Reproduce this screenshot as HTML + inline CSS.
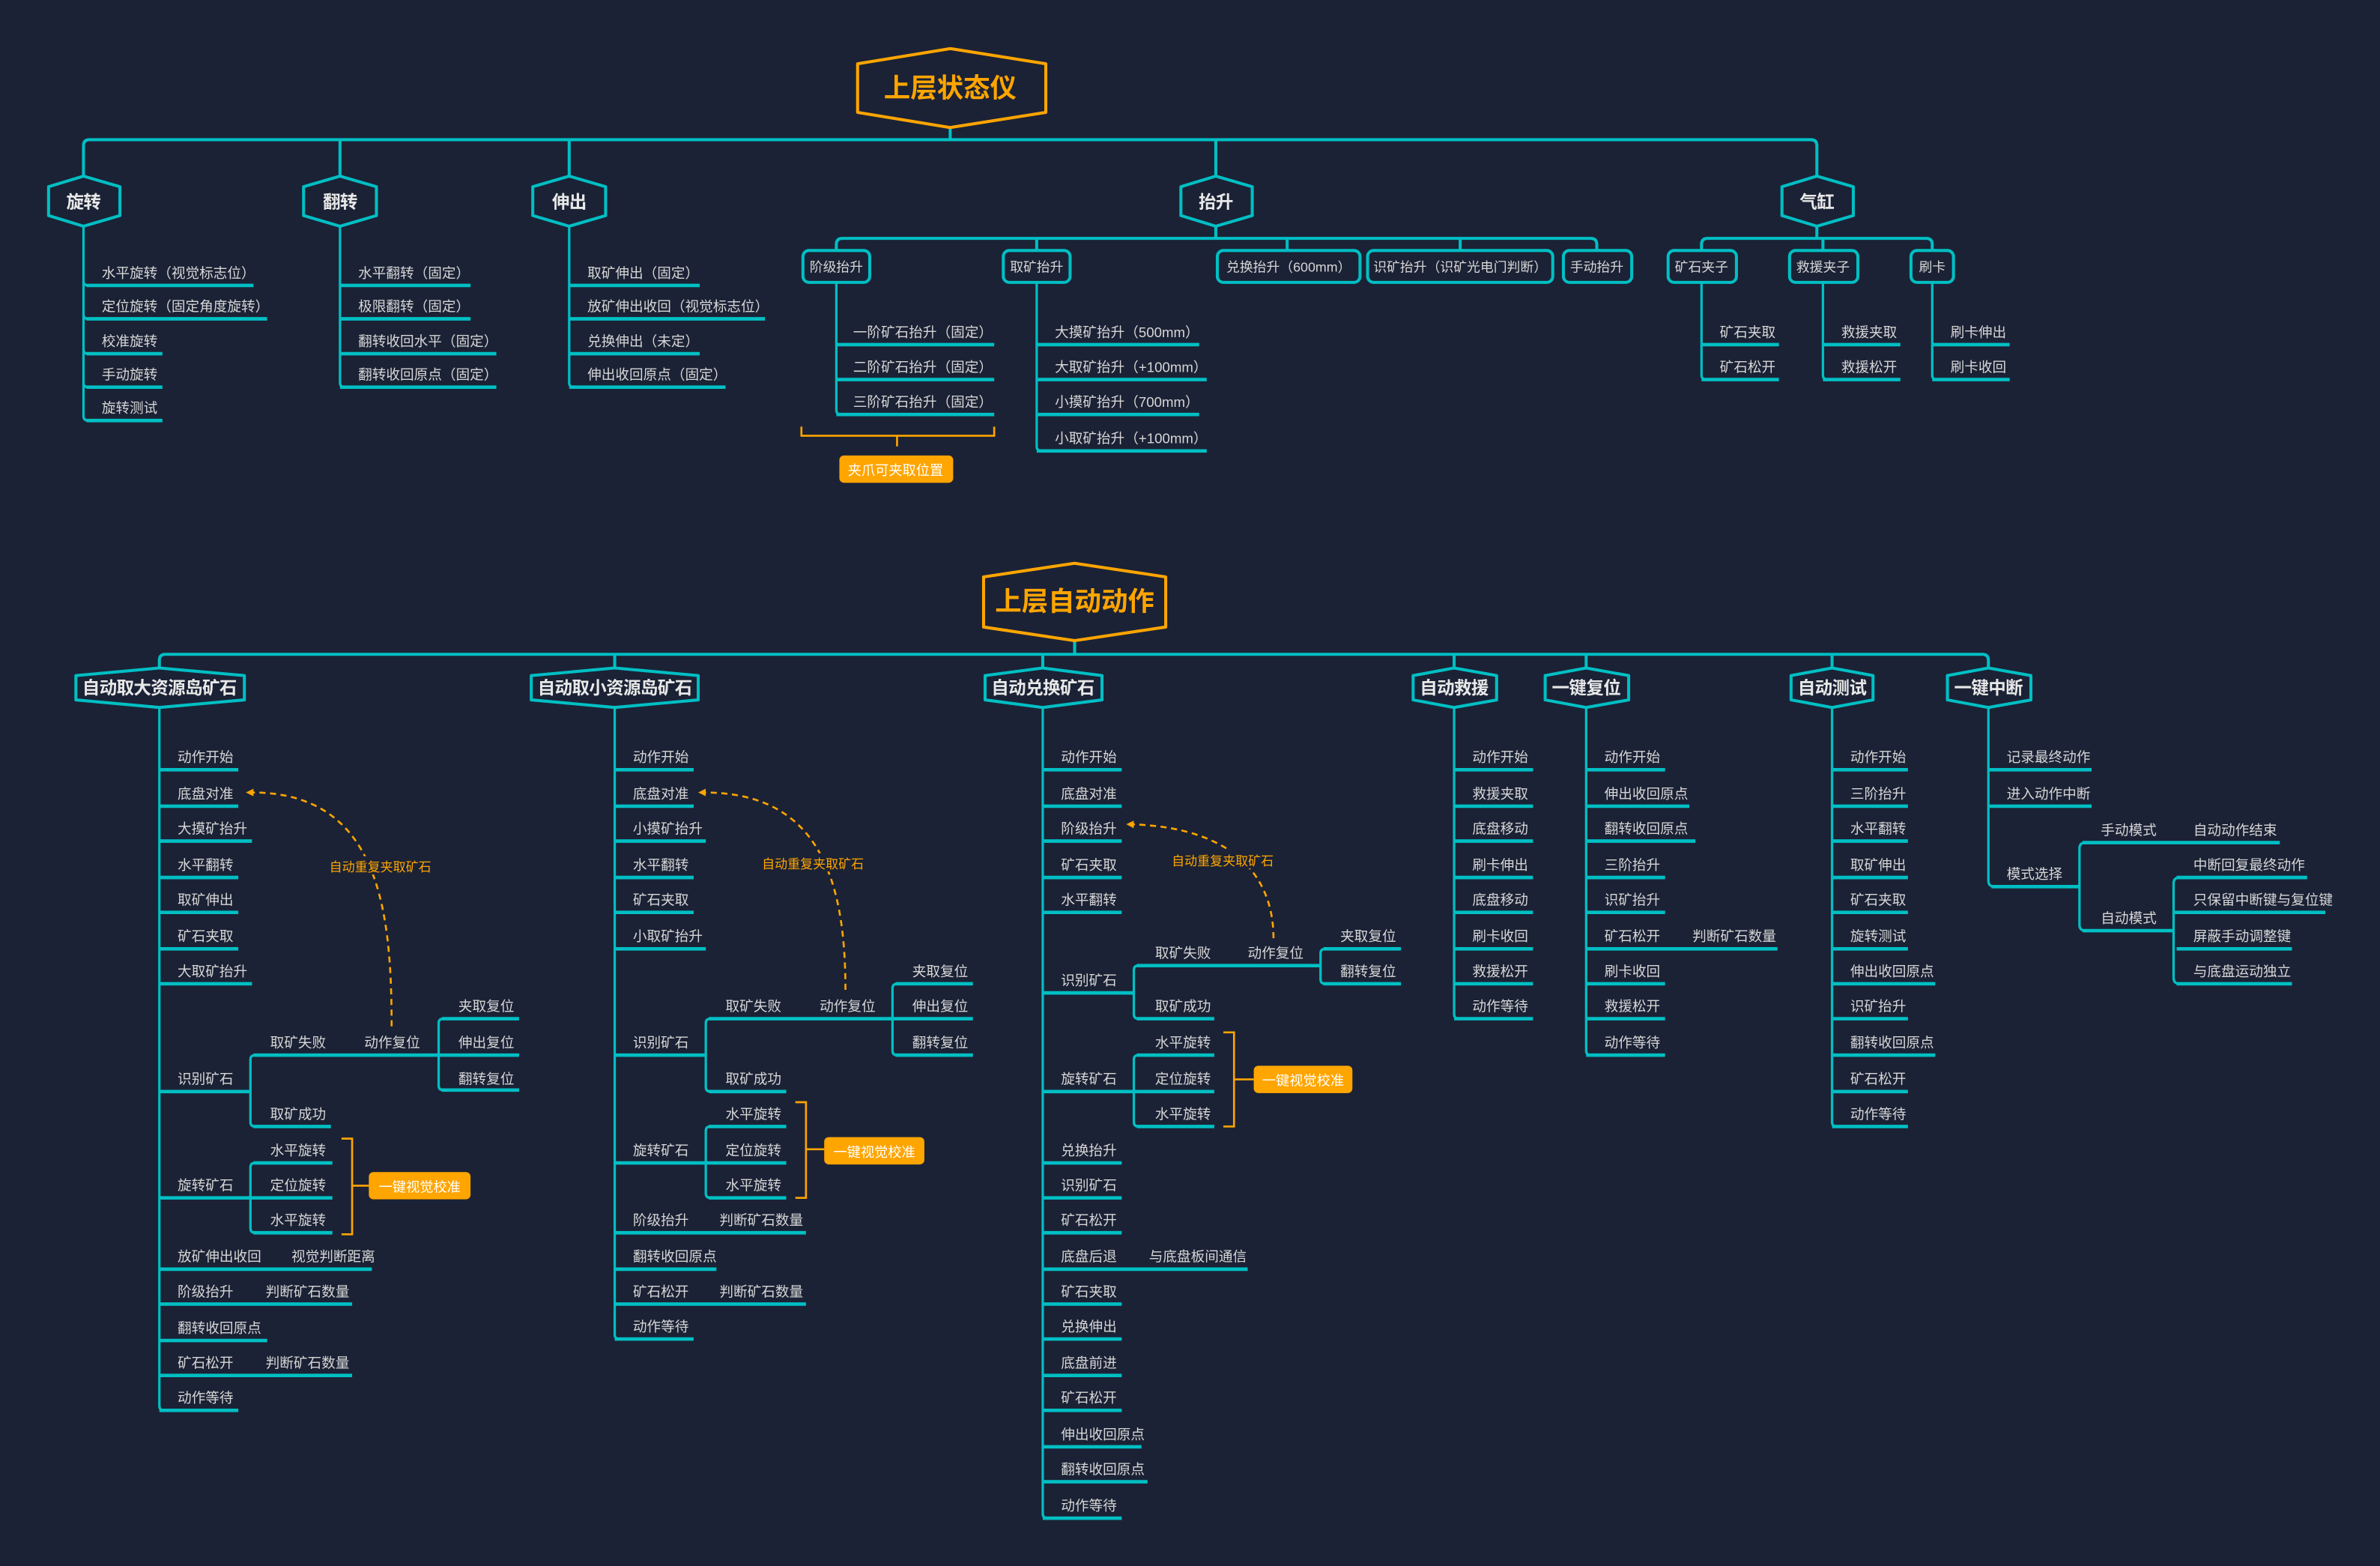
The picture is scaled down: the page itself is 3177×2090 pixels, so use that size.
<!DOCTYPE html>
<html><head><meta charset="utf-8"><style>
html,body{margin:0;padding:0;background:#1b2235;}
svg{display:block}
text{font-family:"Liberation Sans","Noto Sans CJK SC",sans-serif;fill:#d6d6d6;font-size:9.2px}
.b{font-size:11.6px;font-weight:bold;fill:#e8e8e8;text-anchor:middle;letter-spacing:-0.3px}
.t{font-size:17.5px;font-weight:bold;fill:#ffa500;text-anchor:middle}
.o{fill:#ffa500;font-size:8.4px}
.ow{fill:#fff;font-size:9px;text-anchor:middle}
.s{font-size:8.8px;text-anchor:middle}
.tr{stroke:#00bfc4;stroke-width:1.6;fill:none;stroke-linejoin:round;stroke-linecap:round}
.ul{stroke:#00bfc4;stroke-width:2.3;fill:none}
.bus{stroke:#00bfc4;stroke-width:2;fill:none;stroke-linejoin:round}
.nd{stroke:#00bfc4;stroke-width:2;fill:#1b2235;stroke-linejoin:round}
.br{stroke:#ffa500;stroke-width:1.3;fill:none}
</style></head><body>
<svg width="3177" height="2090" viewBox="0 0 1568 1031.5" xmlns="http://www.w3.org/2000/svg">
<rect width="1568" height="1032" fill="#1b2235"/>
<defs><marker id="ar" markerWidth="5" markerHeight="5" refX="1" refY="2.5" orient="auto" markerUnits="userSpaceOnUse"><path d="M5,0 L0,2.5 L5,5 Z" fill="#ffa500" transform="rotate(180 2.5 2.5)"/></marker></defs>

<!-- ============ TOP SECTION ============ -->
<path class="bus" d="M626,84 V92 M59,92 H1193 M55,116 V96 Q55,92 59,92 M1197,116 V96 Q1197,92 1193,92 M224,116 V92 M375,116 V92 M801,116 V92"/>
<polygon points="565,42 626,32 689,42 689,74 626,84 565,74" fill="#1b2235" stroke="#ffa500" stroke-width="2" stroke-linejoin="round"/>
<text class="t" x="626" y="64">上层状态仪</text>

<polygon class="nd" points="32,123 55,116 79,123 79,142 55,149 32,142"/><text class="b" x="55" y="137">旋转</text>
<polygon class="nd" points="200,123 224,116 248,123 248,142 224,149 200,142"/><text class="b" x="224" y="137">翻转</text>
<polygon class="nd" points="351,123 375,116 399,123 399,142 375,149 351,142"/><text class="b" x="375" y="137">伸出</text>
<polygon class="nd" points="778,123 801,116 825,123 825,142 801,149 778,142"/><text class="b" x="801" y="137">抬升</text>
<polygon class="nd" points="1174,123 1197,116 1221,123 1221,142 1197,149 1174,142"/><text class="b" x="1197" y="137">气缸</text>

<path class="tr" d="M55,149 V274 Q55,277 58,277 M55,185 Q55,188 58,188 M55,207 Q55,210 58,210 M55,230 Q55,233 58,233 M55,252 Q55,255 58,255"/>
<path class="ul" d="M57,188 H167 M57,210 H176 M57,233 H107 M57,255 H107 M57,277 H107"/>
<text x="67" y="183">水平旋转（视觉标志位）</text><text x="67" y="205">定位旋转（固定角度旋转）</text><text x="67" y="228">校准旋转</text><text x="67" y="250">手动旋转</text><text x="67" y="272">旋转测试</text>
<path class="tr" d="M224,149 V252 Q224,255 227,255"/>
<path class="ul" d="M224,188 H310 M224,210 H310 M224,233 H327 M224,255 H327"/>
<text x="236" y="183">水平翻转（固定）</text><text x="236" y="205">极限翻转（固定）</text><text x="236" y="228">翻转收回水平（固定）</text><text x="236" y="250">翻转收回原点（固定）</text>
<path class="tr" d="M375,149 V252 Q375,255 378,255"/>
<path class="ul" d="M375,188 H461 M375,210 H504 M375,233 H461 M375,255 H478"/>
<text x="387" y="183">取矿伸出（固定）</text><text x="387" y="205">放矿伸出收回（视觉标志位）</text><text x="387" y="228">兑换伸出（未定）</text><text x="387" y="250">伸出收回原点（固定）</text>

<path class="bus" d="M801,149 V157 M555,157 H1048 M551,165 V161 Q551,157 555,157 M1052,165 V161 Q1052,157 1048,157 M683,165 V157 M848,165 V157 M962,165 V157"/>
<rect class="nd" x="529" y="165" width="44" height="21" rx="4"/><text class="s" x="551" y="179">阶级抬升</text>
<rect class="nd" x="661" y="165" width="44" height="21" rx="4"/><text class="s" x="683" y="179">取矿抬升</text>
<rect class="nd" x="802" y="165" width="94" height="21" rx="4"/><text class="s" x="849" y="179">兑换抬升（600mm）</text>
<rect class="nd" x="901" y="165" width="122" height="21" rx="4"/><text class="s" x="962" y="179">识矿抬升（识矿光电门判断）</text>
<rect class="nd" x="1030" y="165" width="45" height="21" rx="4"/><text class="s" x="1052" y="179">手动抬升</text>

<path class="tr" d="M551,186 V270 Q551,273 554,273"/>
<path class="ul" d="M551,227 H655 M551,250 H655 M551,273 H655"/>
<text x="562" y="222">一阶矿石抬升（固定）</text><text x="562" y="245">二阶矿石抬升（固定）</text><text x="562" y="268">三阶矿石抬升（固定）</text>
<path class="br" d="M528,281 V287 H655 V281 M591,287 V294"/>
<rect x="553" y="300" width="75" height="18" rx="3" fill="#ffa500"/><text class="ow" x="590" y="313">夹爪可夹取位置</text>

<path class="tr" d="M683,186 V294 Q683,297 686,297"/>
<path class="ul" d="M683,227 H790 M683,250 H795 M683,273 H790 M683,297 H795"/>
<text x="695" y="222">大摸矿抬升（500mm）</text><text x="695" y="245">大取矿抬升（+100mm）</text><text x="695" y="268">小摸矿抬升（700mm）</text><text x="695" y="292">小取矿抬升（+100mm）</text>

<path class="bus" d="M1197,149 V157 M1125,157 H1269 M1121,165 V161 Q1121,157 1125,157 M1273,165 V161 Q1273,157 1269,157 M1201,165 V157"/>
<rect class="nd" x="1099" y="165" width="45" height="21" rx="4"/><text class="s" x="1121" y="179">矿石夹子</text>
<rect class="nd" x="1179" y="165" width="45" height="21" rx="4"/><text class="s" x="1201" y="179">救援夹子</text>
<rect class="nd" x="1259" y="165" width="28" height="21" rx="4"/><text class="s" x="1273" y="179">刷卡</text>
<path class="tr" d="M1121,186 V247 Q1121,250 1124,250 M1201,186 V247 Q1201,250 1204,250 M1273,186 V247 Q1273,250 1276,250"/>
<path class="ul" d="M1121,227 H1172 M1121,250 H1172 M1201,227 H1252 M1201,250 H1252 M1273,227 H1324 M1273,250 H1324"/>
<text x="1133" y="222">矿石夹取</text><text x="1133" y="245">矿石松开</text>
<text x="1213" y="222">救援夹取</text><text x="1213" y="245">救援松开</text>
<text x="1285" y="222">刷卡伸出</text><text x="1285" y="245">刷卡收回</text>

<!-- ============ BOTTOM SECTION ============ -->
<path class="bus" d="M708,422 V431 M109,431 H1306 M105,440 V435 Q105,431 109,431 M1310,440 V435 Q1310,431 1306,431 M405,440 V431 M687,440 V431 M958,440 V431 M1045,440 V431 M1207,440 V431"/>
<polygon points="648,380 708,371 768,380 768,413 708,422 648,413" fill="#1b2235" stroke="#ffa500" stroke-width="2" stroke-linejoin="round"/>
<text class="t" x="708" y="402">上层自动动作</text>

<polygon class="nd" points="50,445 105,440 161,445 161,461 105,466 50,461"/><text class="b" x="105" y="457">自动取大资源岛矿石</text>
<polygon class="nd" points="350,445 405,440 460,445 460,461 405,466 350,461"/><text class="b" x="405" y="457">自动取小资源岛矿石</text>
<polygon class="nd" points="649,445 687,440 726,445 726,461 687,466 649,461"/><text class="b" x="687" y="457">自动兑换矿石</text>
<polygon class="nd" points="931,445 958,440 986,445 986,461 958,466 931,461"/><text class="b" x="958" y="457">自动救援</text>
<polygon class="nd" points="1018,445 1045,440 1073,445 1073,461 1045,466 1018,461"/><text class="b" x="1045" y="457">一键复位</text>
<polygon class="nd" points="1180,445 1207,440 1234,445 1234,461 1207,466 1180,461"/><text class="b" x="1207" y="457">自动测试</text>
<polygon class="nd" points="1283,445 1310,440 1338,445 1338,461 1310,466 1283,461"/><text class="b" x="1310" y="457">一键中断</text>

<!-- Column A -->
<path class="tr" d="M105,466 V926 Q105,929 108,929"/>
<path class="ul" d="M105,507 H157 M105,531 H157 M105,554 H166 M105,578 H157 M105,601 H157 M105,625 H157 M105,648 H166 M105,719 H165 M105,789 H165 M105,836 H245 M105,859 H232 M105,883 H176 M105,906 H232 M105,929 H157"/>
<path class="tr" d="M165,719 V698 Q165,695 168,695 M165,719 V739 Q165,742 168,742 M289,695 V674 Q289,671 292,671 M289,695 V715 Q289,718 292,718 M165,789 V769 Q165,766 168,766 M165,789 V809 Q165,812 168,812"/>
<path class="ul" d="M167,695 H289 M167,742 H218 M291,671 H342 M289,695 H342 M291,718 H342 M167,766 H219 M165,789 H219 M167,812 H219"/>
<text x="117" y="502">动作开始</text><text x="117" y="526">底盘对准</text><text x="117" y="549">大摸矿抬升</text><text x="117" y="573">水平翻转</text><text x="117" y="596">取矿伸出</text><text x="117" y="620">矿石夹取</text><text x="117" y="643">大取矿抬升</text>
<text x="117" y="714">识别矿石</text><text x="117" y="784">旋转矿石</text><text x="117" y="831">放矿伸出收回</text><text x="192" y="831">视觉判断距离</text>
<text x="117" y="854">阶级抬升</text><text x="175" y="854">判断矿石数量</text><text x="117" y="878">翻转收回原点</text><text x="117" y="901">矿石松开</text><text x="175" y="901">判断矿石数量</text><text x="117" y="924">动作等待</text>
<text x="178" y="690">取矿失败</text><text x="240" y="690">动作复位</text><text x="302" y="666">夹取复位</text><text x="302" y="690">伸出复位</text><text x="302" y="714">翻转复位</text><text x="178" y="737">取矿成功</text>
<text x="178" y="761">水平旋转</text><text x="178" y="784">定位旋转</text><text x="178" y="807">水平旋转</text>
<path class="br" d="M225,750 H232 V813 H225 M232,781 H243"/>
<rect x="243" y="772" width="67" height="18" rx="3" fill="#ffa500"/><text class="ow" x="276.5" y="785">一键视觉校准</text>
<path d="M258,676 C258,600 250,522 166,522" stroke="#ffa500" stroke-width="1.3" fill="none" stroke-dasharray="4,3" marker-end="url(#ar)"/>
<rect x="216" y="564" width="66" height="12" fill="#1b2235"/><text class="o" x="217" y="574">自动重复夹取矿石</text>

<!-- Column B -->
<path class="tr" d="M405,466 V879 Q405,882 408,882"/>
<path class="ul" d="M405,507 H457 M405,531 H457 M405,554 H465 M405,578 H457 M405,601 H457 M405,625 H465 M405,695 H465 M405,766 H465 M405,812 H531 M405,836 H472 M405,859 H531 M405,882 H457"/>
<path class="tr" d="M465,695 V674 Q465,671 468,671 M465,695 V716 Q465,719 468,719 M588,671 V651 Q588,648 591,648 M588,671 V692 Q588,695 591,695 M465,766 V745 Q465,742 468,742 M465,766 V786 Q465,789 468,789"/>
<path class="ul" d="M467,671 H641 M467,719 H518 M590,648 H641 M590,695 H641 M467,742 H518 M465,766 H518 M467,789 H518"/>
<text x="417" y="502">动作开始</text><text x="417" y="526">底盘对准</text><text x="417" y="549">小摸矿抬升</text><text x="417" y="573">水平翻转</text><text x="417" y="596">矿石夹取</text><text x="417" y="620">小取矿抬升</text>
<text x="417" y="690">识别矿石</text><text x="417" y="761">旋转矿石</text><text x="417" y="807">阶级抬升</text><text x="474" y="807">判断矿石数量</text><text x="417" y="831">翻转收回原点</text><text x="417" y="854">矿石松开</text><text x="474" y="854">判断矿石数量</text><text x="417" y="877">动作等待</text>
<text x="478" y="666">取矿失败</text><text x="540" y="666">动作复位</text><text x="601" y="643">夹取复位</text><text x="601" y="666">伸出复位</text><text x="601" y="690">翻转复位</text><text x="478" y="714">取矿成功</text>
<text x="478" y="737">水平旋转</text><text x="478" y="761">定位旋转</text><text x="478" y="784">水平旋转</text>
<path class="br" d="M524,726 H531 V789 H524 M531,757 H543"/>
<rect x="543" y="749" width="66" height="18" rx="3" fill="#ffa500"/><text class="ow" x="576" y="762">一键视觉校准</text>
<path d="M557,652 C557,580 540,522 464,522" stroke="#ffa500" stroke-width="1.3" fill="none" stroke-dasharray="4,3" marker-end="url(#ar)"/>
<rect x="501" y="562" width="67" height="12" fill="#1b2235"/><text class="o" x="502" y="572">自动重复夹取矿石</text>

<!-- Column C -->
<path class="tr" d="M687,466 V997 Q687,1000 690,1000"/>
<path class="ul" d="M687,507 H739 M687,531 H739 M687,554 H739 M687,578 H739 M687,601 H739 M687,654 H747 M687,719 H747 M687,766 H739 M687,789 H739 M687,812 H739 M687,836 H822 M687,859 H739 M687,882 H739 M687,906 H739 M687,929 H739 M687,953 H752 M687,976 H756 M687,1000 H739"/>
<path class="tr" d="M747,654 V639 Q747,636 750,636 M747,654 V668 Q747,671 750,671 M870,636 V628 Q870,625 873,625 M870,636 V645 Q870,648 873,648 M747,719 V698 Q747,695 750,695 M747,719 V739 Q747,742 750,742"/>
<path class="ul" d="M749,636 H870 M749,671 H800 M872,625 H923 M872,648 H923 M749,695 H800 M747,719 H800 M749,742 H800"/>
<text x="699" y="502">动作开始</text><text x="699" y="526">底盘对准</text><text x="699" y="549">阶级抬升</text><text x="699" y="573">矿石夹取</text><text x="699" y="596">水平翻转</text>
<text x="699" y="649">识别矿石</text><text x="699" y="714">旋转矿石</text><text x="699" y="761">兑换抬升</text><text x="699" y="784">识别矿石</text><text x="699" y="807">矿石松开</text><text x="699" y="831">底盘后退</text><text x="757" y="831">与底盘板间通信</text>
<text x="699" y="854">矿石夹取</text><text x="699" y="877">兑换伸出</text><text x="699" y="901">底盘前进</text><text x="699" y="924">矿石松开</text><text x="699" y="948">伸出收回原点</text><text x="699" y="971">翻转收回原点</text><text x="699" y="995">动作等待</text>
<text x="761" y="631">取矿失败</text><text x="822" y="631">动作复位</text><text x="883" y="620">夹取复位</text><text x="883" y="643">翻转复位</text><text x="761" y="666">取矿成功</text>
<text x="761" y="690">水平旋转</text><text x="761" y="714">定位旋转</text><text x="761" y="737">水平旋转</text>
<path class="br" d="M806,680 H813 V742 H806 M813,711 H826"/>
<rect x="826" y="702" width="65" height="18" rx="3" fill="#ffa500"/><text class="ow" x="858.5" y="715">一键视觉校准</text>
<path d="M839,618 C839,575 810,545 746,543" stroke="#ffa500" stroke-width="1.3" fill="none" stroke-dasharray="4,3" marker-end="url(#ar)"/>
<rect x="771" y="560" width="66" height="12" fill="#1b2235"/><text class="o" x="772" y="570">自动重复夹取矿石</text>

<!-- Column D -->
<path class="tr" d="M958,466 V668 Q958,671 961,671"/>
<path class="ul" d="M958,507 H1010 M958,531 H1010 M958,554 H1010 M958,578 H1010 M958,601 H1010 M958,625 H1010 M958,648 H1010 M958,671 H1010"/>
<text x="970" y="502">动作开始</text><text x="970" y="526">救援夹取</text><text x="970" y="549">底盘移动</text><text x="970" y="573">刷卡伸出</text><text x="970" y="596">底盘移动</text><text x="970" y="620">刷卡收回</text><text x="970" y="643">救援松开</text><text x="970" y="666">动作等待</text>

<!-- Column E -->
<path class="tr" d="M1045,466 V692 Q1045,695 1048,695"/>
<path class="ul" d="M1045,507 H1097 M1045,531 H1113 M1045,554 H1117 M1045,578 H1097 M1045,601 H1097 M1045,625 H1171 M1045,648 H1097 M1045,671 H1097 M1045,695 H1097"/>
<text x="1057" y="502">动作开始</text><text x="1057" y="526">伸出收回原点</text><text x="1057" y="549">翻转收回原点</text><text x="1057" y="573">三阶抬升</text><text x="1057" y="596">识矿抬升</text><text x="1057" y="620">矿石松开</text><text x="1115" y="620">判断矿石数量</text><text x="1057" y="643">刷卡收回</text><text x="1057" y="666">救援松开</text><text x="1057" y="690">动作等待</text>

<!-- Column F -->
<path class="tr" d="M1207,466 V739 Q1207,742 1210,742"/>
<path class="ul" d="M1207,507 H1257 M1207,531 H1257 M1207,554 H1257 M1207,578 H1257 M1207,601 H1257 M1207,625 H1257 M1207,648 H1275 M1207,671 H1257 M1207,695 H1275 M1207,719 H1257 M1207,742 H1257"/>
<text x="1219" y="502">动作开始</text><text x="1219" y="526">三阶抬升</text><text x="1219" y="549">水平翻转</text><text x="1219" y="573">取矿伸出</text><text x="1219" y="596">矿石夹取</text><text x="1219" y="620">旋转测试</text><text x="1219" y="643">伸出收回原点</text><text x="1219" y="666">识矿抬升</text><text x="1219" y="690">翻转收回原点</text><text x="1219" y="714">矿石松开</text><text x="1219" y="737">动作等待</text>

<!-- Column G -->
<path class="tr" d="M1310,466 V580 Q1310,584 1314,584 M1370,584 V559 Q1370,555 1374,555 M1370,584 V609 Q1370,613 1374,613 M1432,613 V582 Q1432,578 1436,578 M1432,613 V644 Q1432,648 1436,648"/>
<path class="ul" d="M1310,507 H1378 M1310,531 H1378 M1312,584 H1370 M1372,555 H1502 M1372,613 H1432 M1434,578 H1520 M1432,601 H1532 M1434,625 H1510 M1434,648 H1510"/>
<text x="1322" y="502">记录最终动作</text><text x="1322" y="526">进入动作中断</text><text x="1322" y="579">模式选择</text>
<text x="1384" y="550">手动模式</text><text x="1445" y="550">自动动作结束</text><text x="1384" y="608">自动模式</text>
<text x="1445" y="573">中断回复最终动作</text><text x="1445" y="596">只保留中断键与复位键</text><text x="1445" y="620">屏蔽手动调整键</text><text x="1445" y="643">与底盘运动独立</text>
</svg>
</body></html>
